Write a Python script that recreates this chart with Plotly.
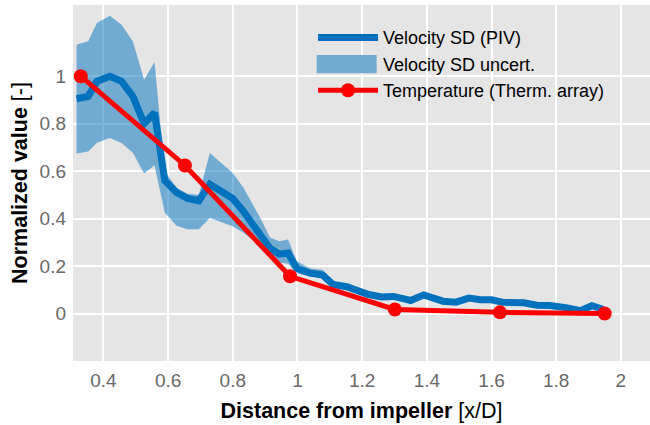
import plotly.graph_objects as go

# Velocity SD (PIV) and its uncertainty band
vel_x = [0.317, 0.353, 0.380, 0.420, 0.456, 0.491, 0.526, 0.558, 0.590, 0.626,
         0.660, 0.695, 0.729, 0.765, 0.800, 0.833, 0.862, 0.890, 0.915, 0.944,
         0.971, 0.998, 1.040, 1.078, 1.110, 1.152, 1.190, 1.220, 1.260, 1.296,
         1.330, 1.350, 1.390, 1.420, 1.450, 1.490, 1.530, 1.565, 1.600, 1.636,
         1.670, 1.700, 1.740, 1.780, 1.830, 1.875, 1.910, 1.945]
vel_sd = [0.905, 0.915, 0.978, 1.000, 0.978, 0.915, 0.800, 0.846, 0.560, 0.510,
          0.485, 0.475, 0.545, 0.515, 0.485, 0.430, 0.375, 0.320, 0.275, 0.250,
          0.255, 0.190, 0.170, 0.162, 0.122, 0.113, 0.095, 0.080, 0.070, 0.072,
          0.062, 0.055, 0.078, 0.065, 0.052, 0.048, 0.065, 0.058, 0.058, 0.047,
          0.045, 0.045, 0.035, 0.034, 0.025, 0.012, 0.033, 0.018]
vel_upper = [1.133, 1.147, 1.224, 1.255, 1.217, 1.147, 0.985, 1.060, 0.600, 0.530,
             0.505, 0.500, 0.676, 0.635, 0.592, 0.530, 0.460, 0.390, 0.320, 0.305,
             0.312, 0.220, 0.190, 0.185, 0.135, 0.125, 0.105, 0.090, 0.080, 0.082,
             0.072, 0.065, 0.088, 0.075, 0.062, 0.058, 0.075, 0.068, 0.068, 0.057,
             0.055, 0.055, 0.045, 0.044, 0.035, 0.022, 0.043, 0.028]
vel_lower = [0.674, 0.683, 0.720, 0.740, 0.719, 0.677, 0.590, 0.625, 0.425, 0.370,
             0.355, 0.355, 0.403, 0.385, 0.368, 0.340, 0.310, 0.270, 0.240, 0.215,
             0.210, 0.170, 0.155, 0.150, 0.112, 0.103, 0.085, 0.070, 0.060, 0.062,
             0.052, 0.045, 0.068, 0.055, 0.042, 0.038, 0.055, 0.048, 0.048, 0.037,
             0.035, 0.035, 0.025, 0.024, 0.015, 0.002, 0.023, 0.008]

# Temperature (thermocouple array)
temp_x = [0.330, 0.652, 0.977, 1.301, 1.626, 1.950]
temp = [1.000, 0.624, 0.157, 0.017, 0.005, 0.000]

x_ticks = [0.4, 0.6, 0.8, 1.0, 1.2, 1.4, 1.6, 1.8, 2.0]
x_tick_text = ["0.4", "0.6", "0.8", "1", "1.2", "1.4", "1.6", "1.8", "2"]
y_ticks = [0, 0.2, 0.4, 0.6, 0.8, 1.0]
y_tick_text = ["0", "0.2", "0.4", "0.6", "0.8", "1"]

assert len(vel_x) == len(vel_sd) == len(vel_upper) == len(vel_lower)

FONT = "Liberation Sans, Arial, Helvetica, sans-serif"
BLUE = "#0072BD"
BAND = "rgba(0,114,189,0.5)"
BAND_SOLID = "#72ABD2"
RED = "#FF0000"
TICK_GREY = "#696969"

fig = go.Figure()

# uncertainty band (legend entry drawn as a patch below)
fig.add_trace(go.Scatter(
    x=vel_x + vel_x[::-1],
    y=vel_upper + vel_lower[::-1],
    mode="lines", fill="toself", fillcolor=BAND,
    line=dict(width=0, color=BAND),
    name="Velocity SD uncert.", showlegend=False, hoverinfo="skip",
))
fig.add_trace(go.Scatter(
    x=vel_x, y=vel_sd, mode="lines",
    line=dict(color=BLUE, width=7),
    name="Velocity SD (PIV)", legendrank=1,
))
# legend-only entry for the band (symbol replaced by a filled patch shape)
fig.add_trace(go.Scatter(
    x=[None], y=[None], mode="lines",
    line=dict(color="rgba(0,0,0,0)", width=1),
    name="Velocity SD uncert.", legendrank=2, hoverinfo="skip",
))
fig.add_trace(go.Scatter(
    x=temp_x, y=temp, mode="lines+markers",
    line=dict(color=RED, width=5),
    marker=dict(color=RED, size=14),
    name="Temperature (Therm. array)", legendrank=3,
))

fig.add_shape(
    type="rect", xref="paper", yref="paper",
    x0=0.4224, x1=0.5263, y0=0.8081, y1=0.8596,
    fillcolor=BAND_SOLID, line=dict(width=0), layer="above",
)

fig.update_layout(
    width=650, height=425,
    margin=dict(l=73, r=0, t=5, b=64),
    paper_bgcolor="white",
    plot_bgcolor="#E5E5E5",
    font=dict(family=FONT, size=18, color="#000000"),
    showlegend=True,
    legend=dict(
        x=0.416, y=0.96, xanchor="left", yanchor="top",
        bgcolor="rgba(0,0,0,0)", borderwidth=0,
        font=dict(family=FONT, size=18, color="#000000"),
        itemwidth=60, tracegroupgap=0,
    ),
    xaxis=dict(
        range=[0.306, 2.09], tickvals=x_ticks, ticktext=x_tick_text,
        showgrid=True, gridcolor="white", gridwidth=2,
        zeroline=False, showline=False, ticks="", ticklabelstandoff=6,
        tickfont=dict(family=FONT, size=19, color=TICK_GREY),
        title=dict(text="<b>Distance from impeller</b> [x/D]",
                   font=dict(family=FONT, size=21.5, color="#000000"), standoff=12),
    ),
    yaxis=dict(
        range=[-0.2, 1.3], tickvals=y_ticks, ticktext=y_tick_text,
        showgrid=True, gridcolor="white", gridwidth=2,
        zeroline=False, showline=False, ticks="", ticklabelstandoff=6,
        tickfont=dict(family=FONT, size=19, color=TICK_GREY),
        title=dict(text="<b>Normalized value</b> [-]",
                   font=dict(family=FONT, size=21.5, color="#000000"), standoff=6),
    ),
)

fig.write_html("out.html")
